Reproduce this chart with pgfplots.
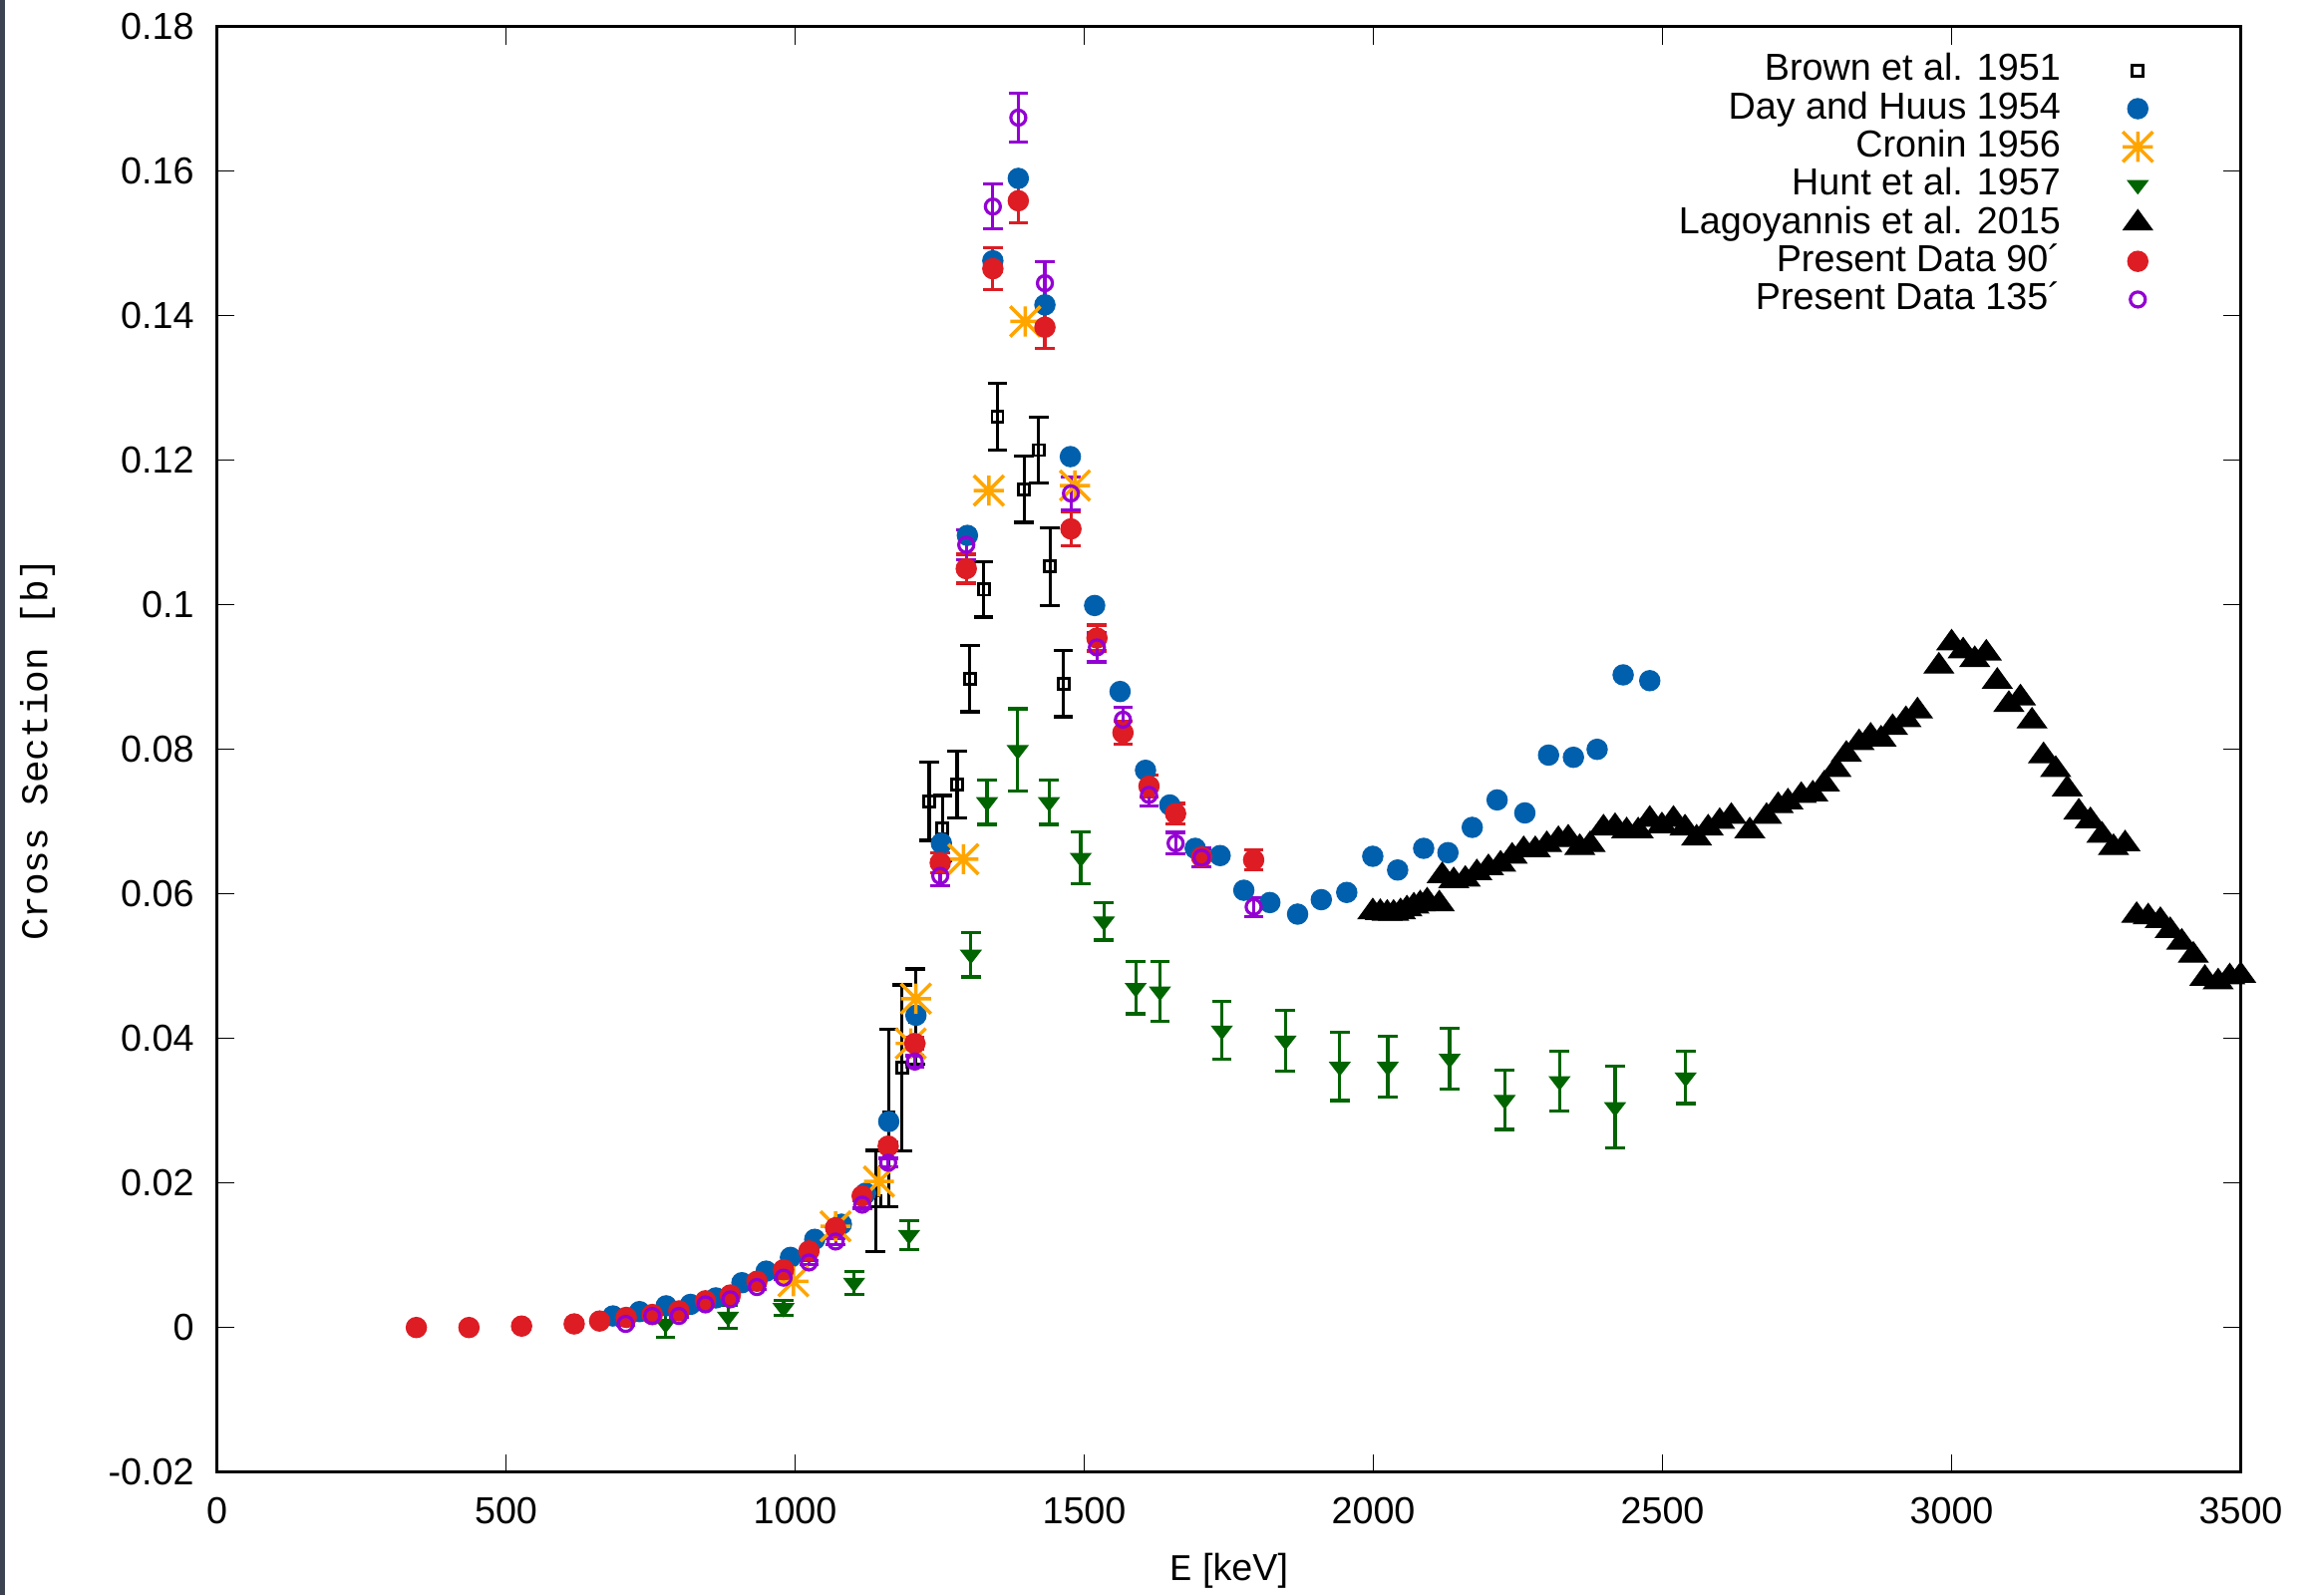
\documentclass[border=0pt]{standalone}
\usepackage{fontspec}
\setmainfont{Liberation Sans}
\setmonofont{Liberation Mono}
\usepackage{pgfplots}
\pgfplotsset{compat=1.18}

\definecolor{cBlue}{HTML}{0060AD}
\definecolor{cRed}{HTML}{DD1C24}
\definecolor{cOrange}{HTML}{FFA500}
\definecolor{cGreen}{HTML}{006400}
\definecolor{cPurple}{HTML}{9400D3}
\definecolor{cStrip}{HTML}{3B4250}

% gnuplot style "*" point: plus and cross over each other
\pgfdeclareplotmark{gstar}{%
  \pgfpathmoveto{\pgfqpoint{-\pgfplotmarksize}{0pt}}%
  \pgfpathlineto{\pgfqpoint{\pgfplotmarksize}{0pt}}%
  \pgfpathmoveto{\pgfqpoint{0pt}{-\pgfplotmarksize}}%
  \pgfpathlineto{\pgfqpoint{0pt}{\pgfplotmarksize}}%
  \pgfpathmoveto{\pgfqpoint{-\pgfplotmarksize}{-\pgfplotmarksize}}%
  \pgfpathlineto{\pgfqpoint{\pgfplotmarksize}{\pgfplotmarksize}}%
  \pgfpathmoveto{\pgfqpoint{-\pgfplotmarksize}{\pgfplotmarksize}}%
  \pgfpathlineto{\pgfqpoint{\pgfplotmarksize}{-\pgfplotmarksize}}%
  \pgfusepathqstroke}

% E [keV]   sigma [b]   error
\pgfplotstableread{
x y e
1139 0.0175 0.0070
1162 0.0290 0.0123
1185 0.0359 0.0115
1208 0.0430 0.0066
1232 0.0728 0.0054
1255 0.0691 0.0045
1280 0.0751 0.0046
1302 0.0898 0.0046
1326 0.1021 0.0038
1350 0.1260 0.0046
1396 0.1160 0.0046
1421 0.1214 0.0046
1441 0.1053 0.0054
1464 0.0891 0.0046
}\brown

\pgfplotstableread{
x y
685 0.0016
731 0.0022
777 0.0030
819 0.0032
863 0.0041
908 0.0062
950 0.0078
992 0.0097
1034 0.0122
1080 0.0143
1122 0.0186
1162 0.0285
1209 0.0432
1253 0.0670
1298 0.1096
1342 0.1476
1386 0.1590
1432 0.1415
1476 0.1205
1518 0.0999
1562 0.0880
1606 0.0771
1648 0.0723
1692 0.0663
1735 0.0653
1776 0.0605
1821 0.0588
1869 0.0572
1910 0.0592
1954 0.0602
1999 0.0652
2042 0.0633
2087 0.0663
2129 0.0657
2171 0.0692
2214 0.0730
2262 0.0712
2303 0.0792
2346 0.0789
2387 0.0800
2432 0.0903
2478 0.0895
}\dayhuus

\pgfplotstableread{
x y
997 0.0064
1070 0.0140
1145 0.0202
1200 0.0393
1209 0.0455
1291 0.0648
1335 0.1158
1398 0.1392
1484 0.1165
}\cronin

\pgfplotstableread{
x y e
776 0.0005 0.0018
884 0.0015 0.0016
980 0.0027 0.0010
1102 0.0062 0.0016
1197 0.0128 0.0020
1304 0.0516 0.0031
1332 0.0727 0.0031
1385 0.0799 0.0057
1439 0.0727 0.0031
1494 0.0650 0.0036
1534 0.0562 0.0026
1589 0.0470 0.0036
1631 0.0465 0.0041
1738 0.0411 0.0040
1848 0.0397 0.0042
1942 0.0361 0.0047
2025 0.0361 0.0042
2132 0.0372 0.0042
2227 0.0315 0.0041
2322 0.0341 0.0041
2418 0.0305 0.0057
2540 0.0346 0.0036
}\hunt

\pgfplotstableread{
x y
1999 0.0575
2012 0.0574
2024 0.0573
2035 0.0573
2047 0.0575
2058 0.0579
2070 0.0583
2081 0.0586
2093 0.0590
2114 0.0586
2119 0.0625
2139 0.0618
2159 0.0620
2179 0.0629
2199 0.0636
2220 0.0641
2240 0.0652
2260 0.0661
2280 0.0661
2300 0.0668
2320 0.0675
2337 0.0677
2357 0.0664
2375 0.0668
2398 0.0691
2418 0.0693
2438 0.0687
2458 0.0687
2478 0.0703
2499 0.0694
2519 0.0703
2539 0.0691
2559 0.0677
2579 0.0691
2599 0.0700
2619 0.0707
2651 0.0687
2680 0.0707
2700 0.0722
2717 0.0727
2740 0.0736
2760 0.0738
2780 0.0752
2800 0.0772
2818 0.0793
2840 0.0809
2860 0.0818
2878 0.0814
2898 0.0830
2921 0.0841
2941 0.0853
2978 0.0915
3000 0.0947
3020 0.0936
3040 0.0924
3060 0.0933
3079 0.0894
3099 0.0862
3119 0.0871
3139 0.0839
3159 0.0791
3180 0.0772
3200 0.0745
3220 0.0713
3240 0.0701
3260 0.0681
3280 0.0664
3300 0.0669
3320 0.0570
3340 0.0568
3361 0.0563
3378 0.0549
3398 0.0533
3418 0.0515
3438 0.0483
3461 0.0478
3481 0.0485
3500 0.0487
}\lago

\pgfplotstableread{
x y e
345 0.0000 0
436 0.0000 0
527 0.0002 0
618 0.0005 0
662 0.0009 0
708 0.0014 0.0001
753 0.0018 0.0001
799 0.0023 0.0001
845 0.0037 0.0001
888 0.0045 0.0001
934 0.0064 0.0002
980 0.0080 0.0002
1024 0.0106 0.0003
1070 0.0138 0.0003
1116 0.0182 0.0004
1161 0.0251 0.0005
1207 0.0393 0.0008
1251 0.0643 0.0014
1296 0.1050 0.0020
1342 0.1465 0.0029
1386 0.1559 0.0031
1432 0.1384 0.0029
1477 0.1105 0.0023
1522 0.0954 0.0018
1567 0.0823 0.0016
1612 0.0749 0.0015
1658 0.0711 0.0014
1703 0.0651 0.0013
1793 0.0647 0.0014
}\pdninety

\pgfplotstableread{
x y e
707 0.0005 0.0002
753 0.0016 0.0002
799 0.0016 0.0002
845 0.0032 0.0002
888 0.0039 0.0002
934 0.0056 0.0003
980 0.0069 0.0003
1024 0.0090 0.0003
1070 0.0119 0.0004
1116 0.0170 0.0005
1161 0.0228 0.0006
1207 0.0368 0.0008
1251 0.0625 0.0014
1296 0.1083 0.0021
1342 0.1551 0.0031
1386 0.1674 0.0034
1432 0.1445 0.0030
1477 0.1154 0.0023
1522 0.0941 0.0020
1567 0.0841 0.0017
1612 0.0737 0.0015
1658 0.0670 0.0015
1703 0.0650 0.0013
1793 0.0582 0.0013
}\pdonethirtyfive

\begin{document}
\begin{tikzpicture}
\begin{axis}[
    scale only axis,
    width=700pt, height=500pt,
    xmin=0, xmax=3500,
    ymin=-0.02, ymax=0.18,
    xtick={0,500,1000,1500,2000,2500,3000,3500},
    ytick={-0.02,0,0.02,0.04,0.06,0.08,0.1,0.12,0.14,0.16,0.18},
    minor tick num=0,
    tick align=inside,
    major tick length=6.2pt,
    major tick style={black, line width=0.4pt},
    axis line style={line width=1.2pt},
    scaled ticks=false,
    /pgf/number format/assume math mode=true,
    tick label style={font=\fontsize{13}{15}\selectfont},
    yticklabel style={/pgf/number format/fixed, /pgf/number format/precision=2, xshift=-4.4pt},
    xticklabel style={/pgf/number format/1000 sep={}, yshift=-5.4pt},
    label style={font=\fontsize{13}{15}\selectfont},
    xlabel={{\ttfamily E} [keV]},
    ylabel={\ttfamily Cross Section [b]},
    x label style={at={(axis description cs:0.5,-0.068)}, anchor=center},
    y label style={at={(axis description cs:-0.0886,0.5)}, anchor=center},
    legend cell align=right,
    legend plot pos=right,
    legend style={draw=none, fill=none, at={(1,1)}, anchor=north east,
        xshift=-27.2pt, yshift=-7.0pt, font=\fontsize{13}{15}\selectfont,
        row sep=1.2pt, column sep=21.5pt,
        nodes={inner sep=0pt, text height=9.5pt, text depth=2.5pt}},
    error bars/error mark options={rotate=90, mark size=3.4pt, line width=1.1pt},
]
\coordinate (sw) at (rel axis cs:0,0);
\coordinate (nw) at (rel axis cs:0,1);
\coordinate (ne) at (rel axis cs:1,1);

\addplot[only marks, black, mark=square, mark size=1.9pt,
    mark options={line width=1pt},
    error bars/.cd, y dir=both, y explicit,
    error bar style={line width=1.1pt, black},
    error mark options={rotate=90, line width=1.1pt, mark size=3.4pt, black}]
    table[x=x, y=y, y error=e] {\brown};
\addlegendentry{Brown et al. 1951}

\addplot[only marks, cBlue, mark=*, mark size=3.5pt,
    mark options={draw=none, fill=cBlue}]
    table[x=x, y=y] {\dayhuus};
\addlegendentry{Day and Huus 1954}

\addplot[only marks, cOrange, mark=gstar, mark size=5.2pt,
    mark options={line width=1.2pt}]
    table[x=x, y=y] {\cronin};
\addlegendentry{Cronin 1956}

\addplot[only marks, cGreen, mark=triangle*, mark size=4pt,
    mark options={rotate=180, yscale=0.75, draw=none, fill=cGreen},
    error bars/.cd, y dir=both, y explicit,
    error bar style={line width=1.1pt, cGreen},
    error mark options={rotate=90, line width=1.1pt, mark size=3.4pt, cGreen}]
    table[x=x, y=y, y error=e] {\hunt};
\addlegendentry{Hunt et al. 1957}

\addplot[only marks, black, mark=triangle*, mark size=5.8pt,
    mark options={yscale=0.8, draw=none, fill=black}]
    table[x=x, y=y] {\lago};
\addlegendentry{Lagoyannis et al. 2015}

\addplot[only marks, cRed, mark=*, mark size=3.5pt,
    mark options={draw=none, fill=cRed},
    error bars/.cd, y dir=both, y explicit,
    error bar style={line width=1.1pt, cRed},
    error mark options={rotate=90, line width=1.1pt, mark size=3.4pt, cRed}]
    table[x=x, y=y, y error=e] {\pdninety};
\addlegendentry{Present Data 90´}

\addplot[only marks, cPurple, mark=o, mark size=2.6pt,
    mark options={line width=1.1pt},
    error bars/.cd, y dir=both, y explicit,
    error bar style={line width=1.1pt, cPurple},
    error mark options={rotate=90, line width=1.1pt, mark size=3.4pt, cPurple}]
    table[x=x, y=y, y error=e] {\pdonethirtyfive};
\addlegendentry{Present Data 135´}
\end{axis}
\pgfresetboundingbox
\path[use as bounding box] ([shift={(-75pt,-42.6pt)}]sw) rectangle ([shift={(25pt,9.2pt)}]ne);
\fill[cStrip] ([shift={(-75pt,-42.6pt)}]sw) rectangle ([shift={(-73.3pt,9.2pt)}]nw);
\end{tikzpicture}
\end{document}
